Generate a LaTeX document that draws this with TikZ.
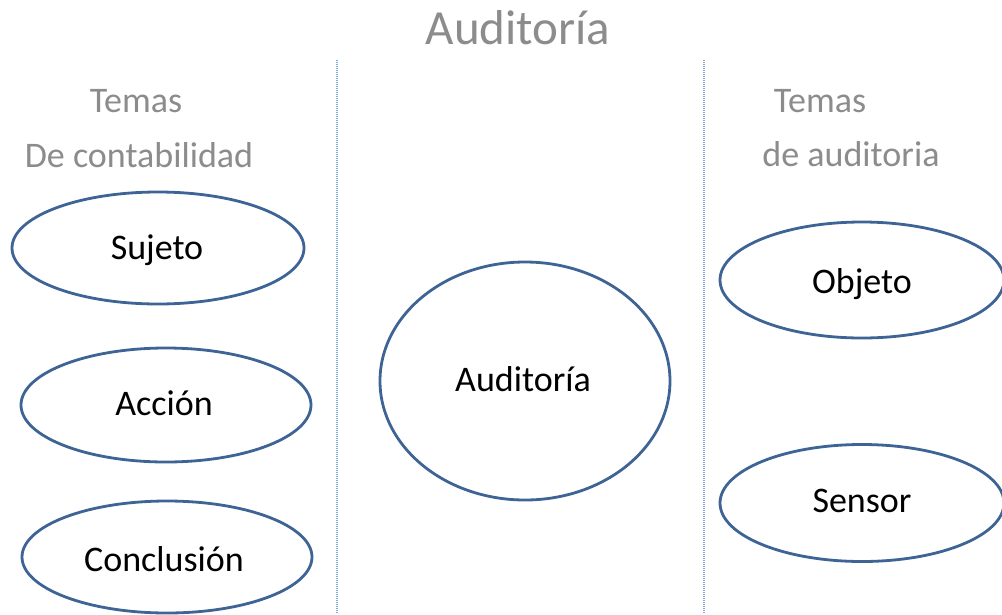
\documentclass[tikz,border=0pt]{standalone}
\usepackage{fontspec}
\setmainfont{Carlito}
\usetikzlibrary{shapes.geometric}
\definecolor{ellblue}{HTML}{3D6494}
\definecolor{dotblue}{HTML}{7FA8DC}
\definecolor{headgray}{HTML}{8C8C8C}
\tikzset{
  oval/.style={ellipse, draw=ellblue, line width=2.8pt, inner sep=0pt},
  lbl/.style={anchor=base, inner sep=0pt, font=\fontsize{36}{42}\selectfont, text=black},
  head/.style={anchor=base, inner sep=0pt, font=\fontsize{36}{42}\selectfont, text=headgray},
  sep/.style={draw=dotblue, line width=1.3pt, dash pattern=on 1pt off 1pt}
}
\begin{document}
\begin{tikzpicture}[x=1pt,y=-1pt]
\clip (0,0) rectangle (1002,614);
\fill[white] (0,0) rectangle (1002,614);
% title
\node[head, font=\fontsize{49}{55}\selectfont] (title) at (518,44) {Auditoría};
% separators
\coordinate (s1t) at (337,60); \coordinate (s1b) at (337,614);
\coordinate (s2t) at (704,60); \coordinate (s2b) at (704,614);
\draw[sep] (s1t) -- (s1b);
\draw[sep] (s2t) -- (s2b);
% headings
\node[head] (h1a) at (136,112) {Temas};
\node[head] (h1b) at (139,167) {De contabilidad};
\node[head] (h2a) at (820,112) {Temas};
\node[head] (h2b) at (851,166) {de auditoria};
% ellipses
\node[oval, minimum width=292pt, minimum height=112pt] (e1) at (158,248) {};
\node[oval, minimum width=290pt, minimum height=114pt] (e2) at (166,405) {};
\node[oval, minimum width=290pt, minimum height=112pt] (e3) at (167,557) {};
\node[oval, minimum width=290pt, minimum height=238pt] (e4) at (525,381) {};
\node[oval, minimum width=284pt, minimum height=116pt] (e5) at (862,280) {};
\node[oval, minimum width=284pt, minimum height=117pt] (e6) at (862,503) {};
% labels
\node[lbl] (t1) at (157,259) {Sujeto};
\node[lbl] (t2) at (164,415) {Acción};
\node[lbl] (t3) at (164,571) {Conclusión};
\node[lbl] (t4) at (523,391) {Auditoría};
\node[lbl] (t5) at (862,293) {Objeto};
\node[lbl] (t6) at (862,512) {Sensor};
\end{tikzpicture}
\end{document}
